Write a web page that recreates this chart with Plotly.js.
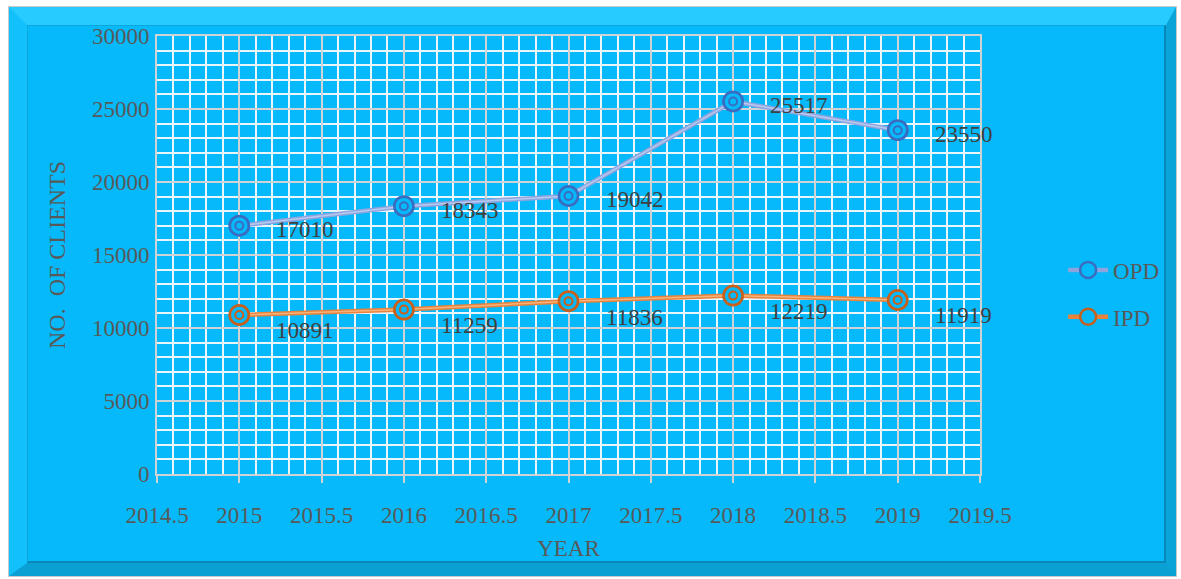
<!DOCTYPE html>
<html>
<head>
<meta charset="utf-8">
<script src="https://cdn.plot.ly/plotly-3.0.1.min.js"></script>
<style>
  html, body { margin:0; padding:0; background:#ffffff; }
  #wrap { position:relative; width:1181px; height:579px; overflow:hidden; background:#ffffff; }
  #outer { position:absolute; left:8px; top:6px; width:1169px; height:571px; box-sizing:border-box;
           border:1px solid #c9c9c9; background:#05b9fa; }
  #bevel { position:absolute; left:0; top:0; right:0; bottom:0; box-sizing:border-box;
           border-style:solid; border-width:18px 10px 13px 18px;
           border-color:#28cbff #0aa4d8 #0aa0d4 #12c0fb; }
  #inner { position:absolute; left:18px; top:18px; right:10px; bottom:13px; box-sizing:border-box;
           border-left:1px solid #0aa6dc; border-top:1px solid #0aa6dc;
           border-right:2px solid #0788b6; border-bottom:2px solid #0788b6; }
  #chart { position:absolute; left:0; top:0; width:1181px; height:579px; }
</style>
</head>
<body>
<div id="wrap">
  <div id="outer"><div id="bevel"></div><div id="inner"></div></div>
  <div id="chart"></div>
</div>
<script>
const years = [2015, 2016, 2017, 2018, 2019];
const opd = [17010, 18343, 19042, 25517, 23550];
const ipd = [10891, 11259, 11836, 12219, 11919];
const seriesNames = ['OPD', 'IPD'];

const BG = '#05b9fa';
const serif = 'Liberation Serif, Times New Roman, serif';
const FS = 23;

function seriesTraces(name, ys, lineCol, centerCol, markCol, group) {
  return [
    { x: years, y: ys, name: name, mode: 'lines+markers', showlegend: true, legendgroup: group,
      line: { color: lineCol, width: 4.5 },
      marker: { symbol: 'circle', size: 19, color: BG, line: { color: markCol, width: 2.5 } } },
    { x: years, y: ys, mode: 'lines', showlegend: false, hoverinfo: 'skip', legendgroup: group,
      line: { color: centerCol, width: 1.5 } },
    { x: years, y: ys, mode: 'markers', showlegend: false, hoverinfo: 'skip', legendgroup: group,
      marker: { symbol: 'circle', size: 19, color: BG, line: { color: markCol, width: 2.5 } } },
    { x: years, y: ys, mode: 'markers', showlegend: false, hoverinfo: 'skip', legendgroup: group,
      marker: { symbol: 'circle-open', size: 8, color: markCol, line: { color: markCol, width: 2 } } }
  ];
}

const data = [].concat(
  seriesTraces(seriesNames[0], opd, '#8ea4dc', '#b6caf2', '#3a6cc0', 'a'),
  seriesTraces(seriesNames[1], ipd, '#e9823a', '#f6b47c', '#c95f1a', 'b')
);

const annotations = [];
years.forEach((yr, i) => {
  annotations.push({ x: yr, y: opd[i], text: String(opd[i]), showarrow: false,
    xanchor: 'left', yanchor: 'middle', xshift: 35, yshift: -4,
    font: { family: serif, size: FS, color: '#404040' } });
  annotations.push({ x: yr, y: ipd[i], text: String(ipd[i]), showarrow: false,
    xanchor: 'left', yanchor: 'middle', xshift: 35, yshift: -16,
    font: { family: serif, size: FS, color: '#404040' } });
});

const layout = {
  width: 1181, height: 579,
  margin: { l: 157, r: 201, t: 36, b: 105 },
  paper_bgcolor: 'rgba(0,0,0,0)',
  plot_bgcolor: BG,
  font: { family: serif, size: FS, color: '#595959' },
  xaxis: {
    range: [2014.5, 2019.5], dtick: 0.5, tick0: 2014.5, tickformat: '~g',
    showgrid: true, gridcolor: '#cfd3d6', gridwidth: 2,
    minor: { dtick: 0.1, showgrid: true, gridcolor: '#eaf6fc', gridwidth: 2 },
    showline: true, linecolor: '#cfd3d6', linewidth: 2, mirror: true,
    ticks: 'outside', ticklen: 7, tickcolor: '#cfd3d6', tickwidth: 2,
    ticklabelstandoff: 12,
    zeroline: false,
    tickfont: { family: serif, size: FS, color: '#595959' },
    title: { text: 'YEAR', standoff: 13, font: { family: serif, size: FS, color: '#595959' } }
  },
  yaxis: {
    range: [0, 30000], dtick: 5000, tickformat: 'd',
    showgrid: true, gridcolor: '#cfd3d6', gridwidth: 2,
    minor: { dtick: 1000, showgrid: true, gridcolor: '#eaf6fc', gridwidth: 2 },
    showline: true, linecolor: '#cfd3d6', linewidth: 2, mirror: true,
    ticks: '', zeroline: false,
    ticklabelstandoff: 1,
    tickfont: { family: serif, size: FS, color: '#595959' },
    title: { text: 'NO.  OF CLIENTS', standoff: 20, font: { family: serif, size: 24, color: '#595959' } }
  },
  legend: {
    x: 1.101, y: 0.515, xanchor: 'left', yanchor: 'top',
    bgcolor: 'rgba(0,0,0,0)', tracegroupgap: 14,
    font: { family: serif, size: FS, color: '#595959' },
    itemwidth: 40
  },
  annotations: annotations,
  showlegend: true
};

Plotly.newPlot('chart', data, layout, { displayModeBar: false, staticPlot: true });
</script>
</body>
</html>
